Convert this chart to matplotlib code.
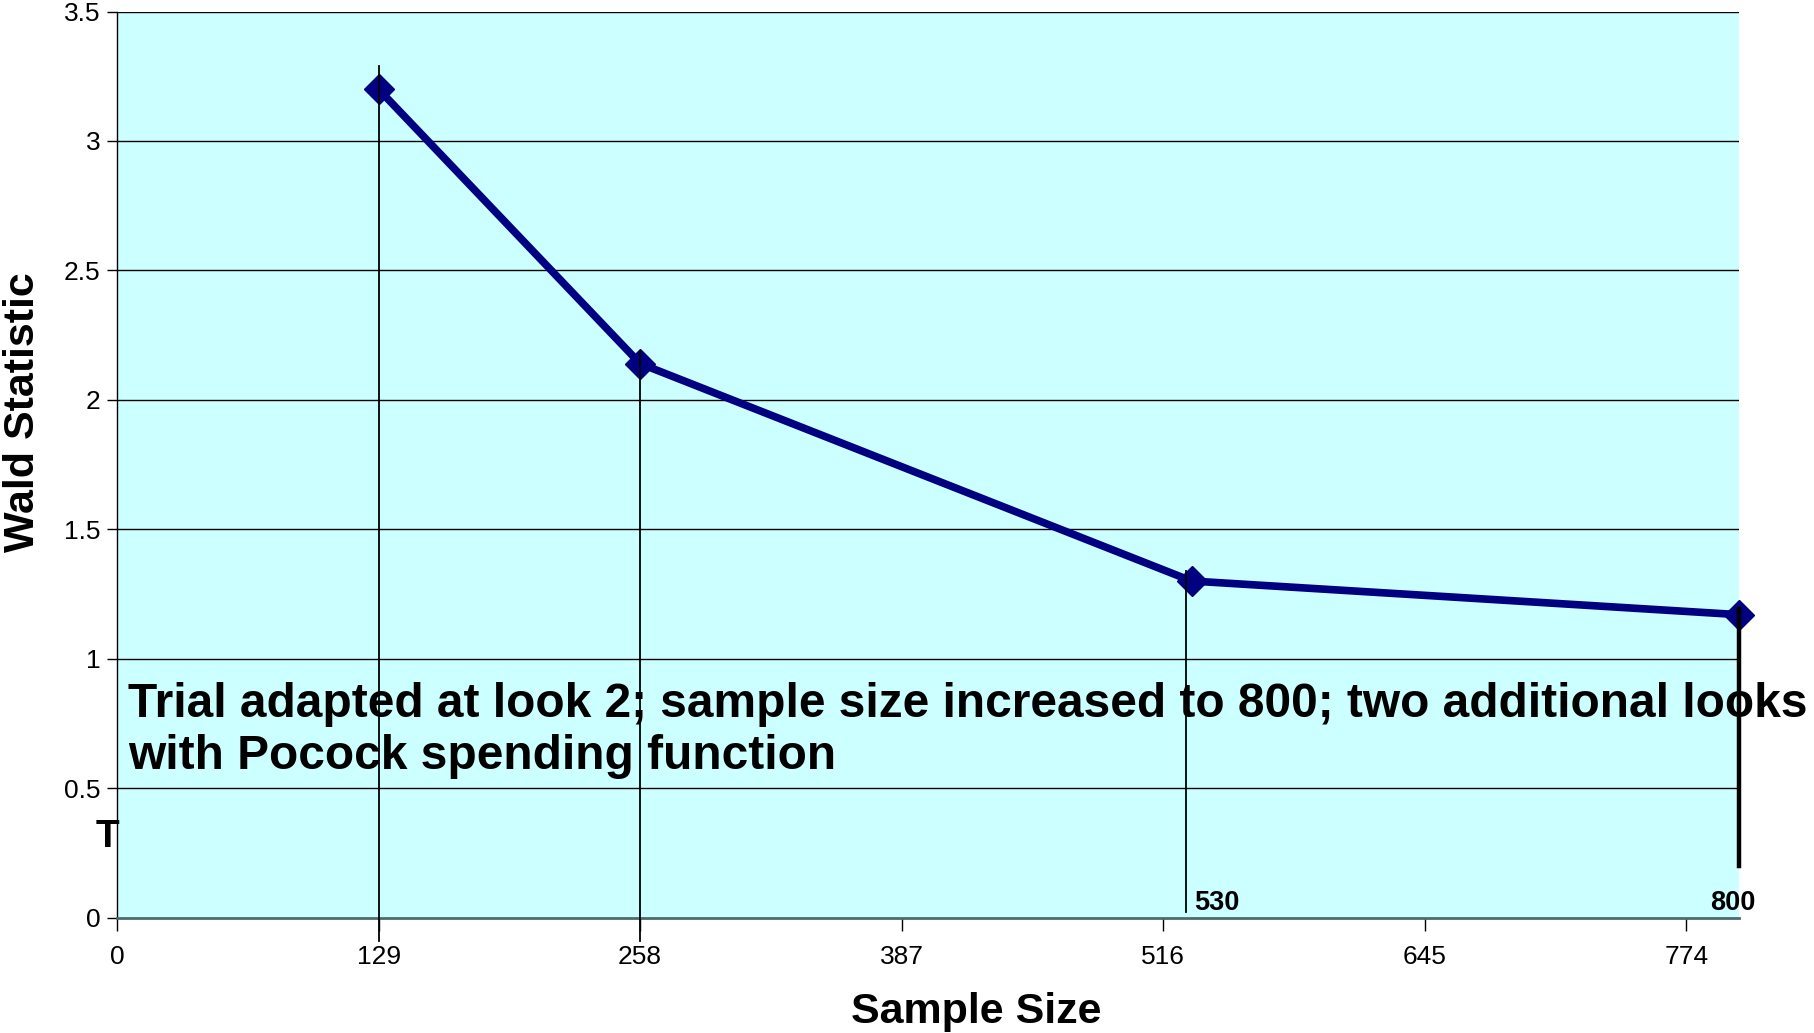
import matplotlib.pyplot as plt

# interim analysis looks
sample_size = [129, 258, 530, 800]
wald_stat = [3.2, 2.14, 1.30, 1.17]

# vertical marker lines at each look (x, top, bottom in data units)
look_x = [129, 258, 527, 800]
look_tops = [3.29, 2.19, 1.34, 1.19]
look_bottoms = [-0.09, -0.09, 0.02, 0.2]
look_labels = ["", "", "530", "800"]

xticks = [0, 129, 258, 387, 516, 645, 774]
yticks = [0, 0.5, 1, 1.5, 2, 2.5, 3, 3.5]
ytick_labels = ["0", "0.5", "1", "1.5", "2", "2.5", "3", "3.5"]

note = ("Trial adapted at look 2; sample size increased to 800; two additional looks\n"
        "with Pocock spending function")

plt.rcParams['font.family'] = ['Liberation Sans', 'DejaVu Sans']

fig = plt.figure(figsize=(18.14, 10.33), dpi=100)
ax = fig.add_axes([0.0645, 0.1118, 0.8942, 0.877])
ax.set_facecolor('#ccffff')

ax.set_xlim(0, 800)
ax.set_ylim(0, 3.5)
ax.set_xticks(xticks)
ax.set_xticklabels([str(t) for t in xticks], fontsize=19)
ax.set_yticks(yticks)
ax.set_yticklabels(ytick_labels, fontsize=19)
ax.tick_params(axis='x', length=9, width=1, pad=11)
ax.tick_params(axis='y', length=7, width=1, pad=5)

for y in yticks[1:]:
    ax.axhline(y, color='black', lw=1, zorder=1)

for s in ['top', 'right']:
    ax.spines[s].set_visible(False)
ax.spines['bottom'].set_color('#4d6b6b')
ax.spines['bottom'].set_linewidth(2)
ax.spines['left'].set_linewidth(1)

# note text sits behind the look lines (baseline = last line)
fig.text(128 / 1814, 1 - 769 / 1033, note, fontsize=34.5, fontweight='bold',
         ha='left', va='baseline', linespacing=1.2, zorder=3)
fig.text(96 / 1814, 1 - 847 / 1033, "T", fontsize=28, fontweight='bold',
         ha='left', va='baseline')

for i, x in enumerate(look_x):
    lw = 3.2 if x == 800 else 1.3
    ax.plot([x, x], [look_bottoms[i], look_tops[i]], color='black', lw=lw,
            clip_on=False, zorder=5)
    if look_labels[i]:
        if x == 800:
            ax.text(x - 3, 0.03, look_labels[i], fontsize=19.5, fontweight='bold',
                    ha='center', va='baseline', zorder=6, clip_on=False)
        else:
            ax.text(x + 4, 0.03, look_labels[i], fontsize=19.5, fontweight='bold',
                    ha='left', va='baseline', zorder=6)

ax.plot(sample_size, wald_stat, color='#000080', lw=5.5, marker='D',
        markersize=15, clip_on=False, zorder=4)

fig.text(976 / 1814, 1 - 1012 / 1033, "Sample Size", fontsize=31,
         fontweight='bold', ha='center', va='center')
fig.text(23 / 1814, 1 - 412 / 1033, "Wald Statistic", fontsize=31,
         fontweight='bold', ha='center', va='center', rotation=90)

fig.savefig('out.png', dpi=100)
